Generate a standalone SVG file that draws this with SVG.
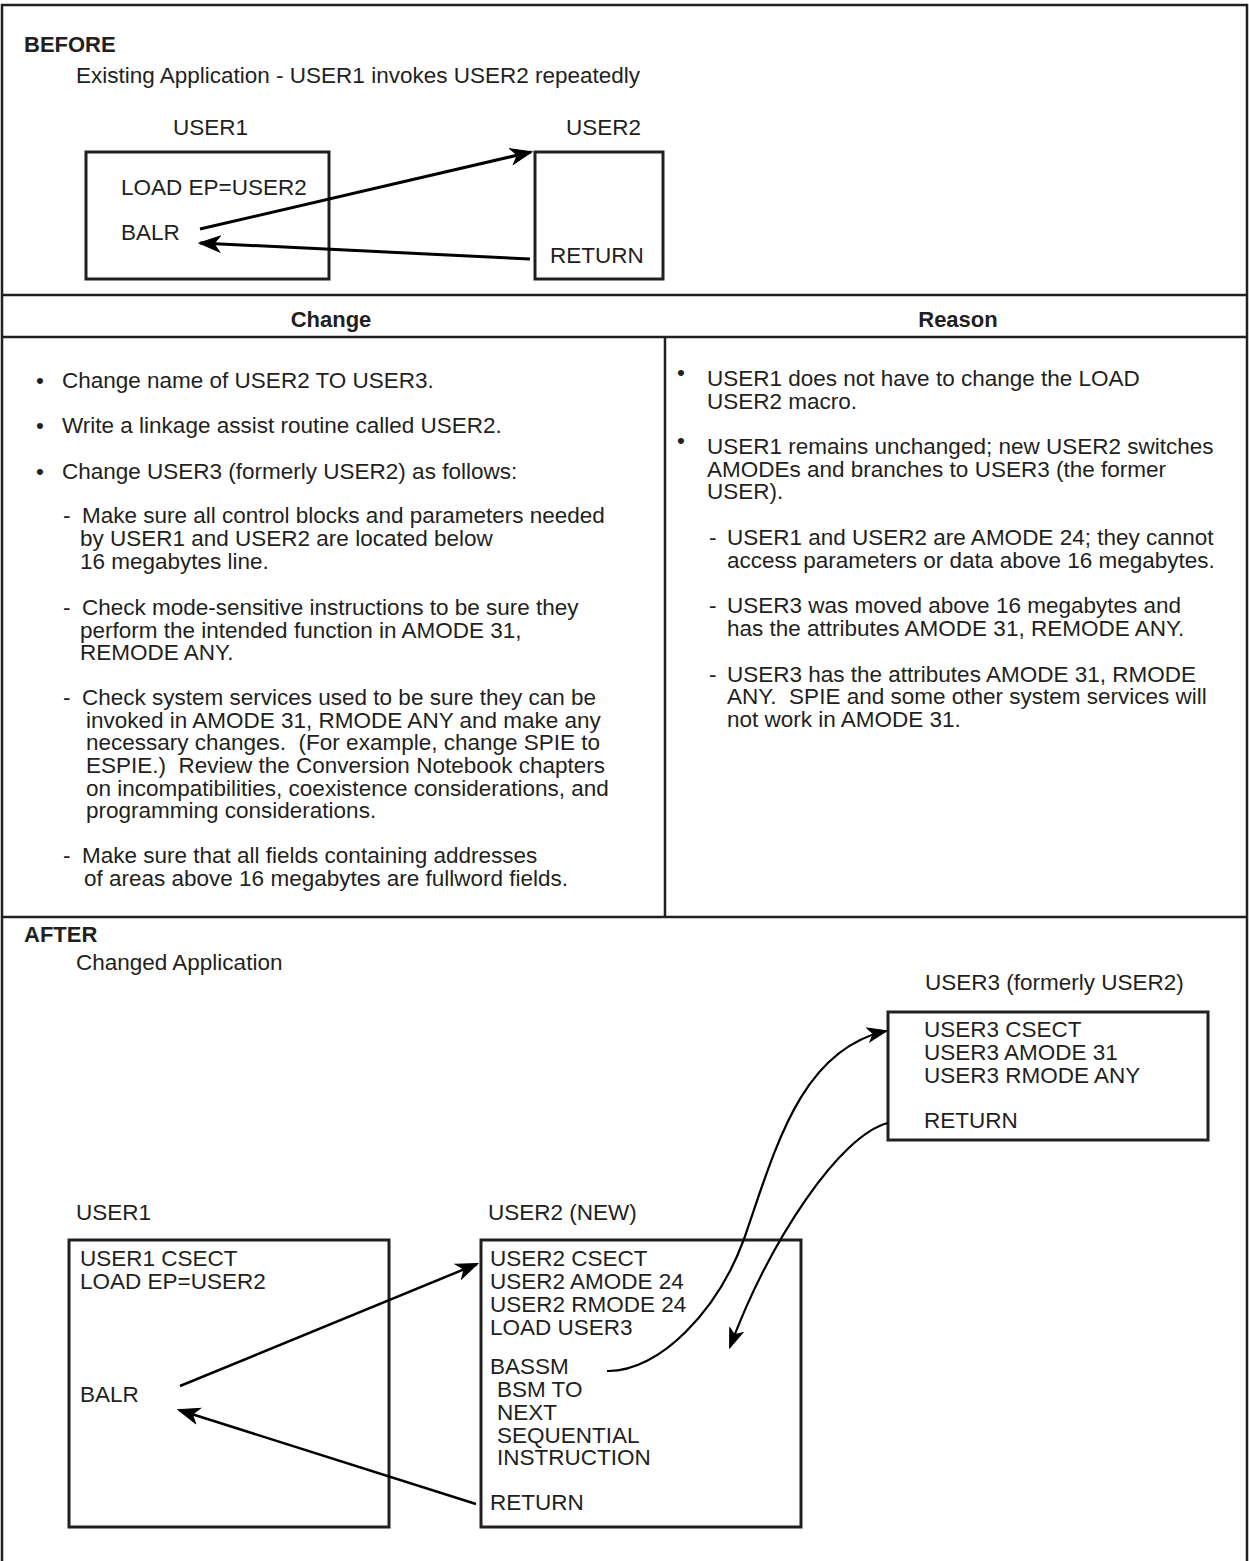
<svg xmlns="http://www.w3.org/2000/svg" width="1249" height="1561" viewBox="0 0 1249 1561">
<defs>
<style>
text{font-family:"Liberation Sans",Arial,Helvetica,sans-serif;font-size:22.5px;fill:#231f20}
.b{font-weight:bold;font-size:22px}
.h{font-weight:bold;font-size:22px;text-anchor:middle}
.box{fill:none;stroke:#231f20;stroke-width:3}
.rule{fill:none;stroke:#231f20;stroke-width:2.5}
.arr{fill:none;stroke:#000;stroke-width:3;marker-end:url(#ah)}
.arr2{fill:none;stroke:#000;stroke-width:2.5;marker-end:url(#ah)}
.crv{fill:none;stroke:#000;stroke-width:2.2;marker-end:url(#ah2)}
.head{fill:#000;stroke:#000;stroke-width:1;stroke-linejoin:miter}
</style>
<marker id="ah" markerUnits="userSpaceOnUse" markerWidth="26" markerHeight="22" refX="21" refY="9" orient="auto">
<path class="head" d="M1,1 L22,9 L1,17 L7,9 z"/>
</marker>
<marker id="ah2" markerUnits="userSpaceOnUse" markerWidth="24" markerHeight="20" refX="19" refY="8" orient="auto">
<path class="head" d="M1,1 L20,8 L1,15 L6,8 z"/>
</marker>
</defs>
<rect width="1249" height="1561" fill="#fff"/>

<g id="frame">
<path class="rule" d="M2,1561 V5 H1247 V1561"/>
<line class="rule" x1="2" y1="295" x2="1247" y2="295"/>
<line class="rule" x1="2" y1="337" x2="1247" y2="337"/>
<line class="rule" x1="665" y1="337" x2="665" y2="917"/>
<line class="rule" x1="2" y1="917" x2="1247" y2="917"/>
</g>

<g id="before-title">
<text class="b" x="24" y="52">BEFORE</text>
<text x="76" y="83">Existing Application - USER1 invokes USER2 repeatedly</text>
</g>

<g id="before-user1">
<text x="173" y="135">USER1</text>
<rect class="box" x="86" y="152" width="243" height="127"/>
<text x="121" y="195">LOAD EP=USER2</text>
<text x="121" y="240">BALR</text>
</g>

<g id="before-user2">
<text x="566" y="135">USER2</text>
<rect class="box" x="535" y="152" width="128" height="127"/>
<text x="550" y="263">RETURN</text>
</g>

<g id="table-headers">
<text class="h" x="331" y="327">Change</text>
<text class="h" x="958" y="327">Reason</text>
</g>

<g id="change-column">
<text x="36" y="388">•</text><text x="62" y="388">Change name of USER2 TO USER3.</text>
<text x="36" y="433">•</text><text x="62" y="433">Write a linkage assist routine called USER2.</text>
<text x="36" y="479">•</text><text x="62" y="479">Change USER3 (formerly USER2) as follows:</text>
<text x="63" y="523">-</text><text x="82" y="523">Make sure all control blocks and parameters needed</text>
<text x="80" y="546">by USER1 and USER2 are located below</text>
<text x="80" y="569">16 megabytes line.</text>
<text x="63" y="615">-</text><text x="82" y="615">Check mode-sensitive instructions to be sure they</text>
<text x="80" y="638">perform the intended function in AMODE 31,</text>
<text x="80" y="660">REMODE ANY.</text>
<text x="63" y="705">-</text><text x="82" y="705">Check system services used to be sure they can be</text>
<text x="86" y="728">invoked in AMODE 31, RMODE ANY and make any</text>
<text x="86" y="750">necessary changes.&#160; (For example, change SPIE to</text>
<text x="86" y="773">ESPIE.)&#160; Review the Conversion Notebook chapters</text>
<text x="86" y="796">on incompatibilities, coexistence considerations, and</text>
<text x="86" y="818">programming considerations.</text>
<text x="63" y="863">-</text><text x="82" y="863">Make sure that all fields containing addresses</text>
<text x="84" y="886">of areas above 16 megabytes are fullword fields.</text>
</g>

<g id="reason-column">
<text x="677" y="380">•</text><text x="707" y="386">USER1 does not have to change the LOAD</text>
<text x="707" y="409">USER2 macro.</text>
<text x="677" y="448">•</text><text x="707" y="454">USER1 remains unchanged; new USER2 switches</text>
<text x="707" y="477">AMODEs and branches to USER3 (the former</text>
<text x="707" y="499">USER).</text>
<text x="709" y="545">-</text><text x="727" y="545">USER1 and USER2 are AMODE 24; they cannot</text>
<text x="727" y="568">access parameters or data above 16 megabytes.</text>
<text x="709" y="613">-</text><text x="727" y="613">USER3 was moved above 16 megabytes and</text>
<text x="727" y="636">has the attributes AMODE 31, REMODE ANY.</text>
<text x="709" y="682">-</text><text x="727" y="682">USER3 has the attributes AMODE 31, RMODE</text>
<text x="727" y="704">ANY.&#160; SPIE and some other system services will</text>
<text x="727" y="727">not work in AMODE 31.</text>
</g>

<g id="after-title">
<text class="b" x="24" y="942">AFTER</text>
<text x="76" y="970">Changed Application</text>
</g>

<g id="after-user3">
<text x="925" y="990">USER3 (formerly USER2)</text>
<rect class="box" x="888" y="1012" width="320" height="128"/>
<text x="924" y="1037">USER3 CSECT</text>
<text x="924" y="1060">USER3 AMODE 31</text>
<text x="924" y="1083">USER3 RMODE ANY</text>
<text x="924" y="1128">RETURN</text>
</g>

<g id="after-user1">
<text x="76" y="1220">USER1</text>
<rect class="box" x="69" y="1240" width="320" height="287"/>
<text x="80" y="1266">USER1 CSECT</text>
<text x="80" y="1289">LOAD EP=USER2</text>
<text x="80" y="1402">BALR</text>
</g>

<g id="after-user2">
<text x="488" y="1220">USER2 (NEW)</text>
<rect class="box" x="481" y="1240" width="320" height="287"/>
<text x="490" y="1266">USER2 CSECT</text>
<text x="490" y="1289">USER2 AMODE 24</text>
<text x="490" y="1312">USER2 RMODE 24</text>
<text x="490" y="1335">LOAD USER3</text>
<text x="490" y="1374">BASSM</text>
<text x="497" y="1397">BSM TO</text>
<text x="497" y="1420">NEXT</text>
<text x="497" y="1443">SEQUENTIAL</text>
<text x="497" y="1465">INSTRUCTION</text>
<text x="490" y="1510">RETURN</text>
</g>

<g id="connectors">
<line class="arr" x1="200" y1="229" x2="531" y2="152"/>
<line class="arr" x1="530" y1="259" x2="200" y2="243"/>
<line class="arr2" x1="180" y1="1386" x2="477" y2="1264"/>
<line class="arr2" x1="476" y1="1504" x2="179" y2="1410"/>
<path class="crv" d="M607,1371 C660,1372 718,1310 744,1239 C775,1150 800,1050 886,1031"/>
<path class="crv" d="M888,1123 C840,1135 770,1240 730,1347"/>
</g>
</svg>
